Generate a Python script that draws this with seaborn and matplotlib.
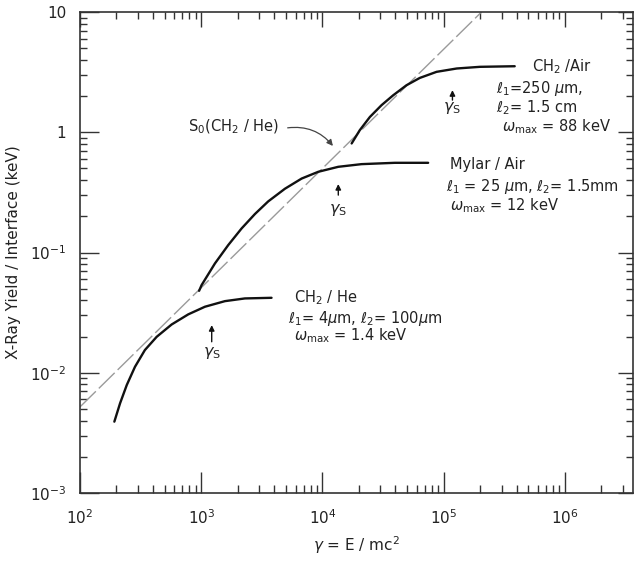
import matplotlib
matplotlib.use("Agg")
import matplotlib.pyplot as plt
import seaborn as sns
import numpy as np
import pandas as pd
from matplotlib.ticker import LogLocator, NullFormatter, FixedLocator

# ---- data ----
chhe_gamma = [192, 214, 243, 284, 343, 429, 570, 782, 1073, 1568, 2291, 3800]
chhe_yield = [0.00392, 0.00557, 0.0079, 0.0112, 0.01545, 0.0199, 0.0252, 0.0306,
              0.0354, 0.0394, 0.0415, 0.0420]

mylar_gamma = [960, 1007, 1297, 1670, 2152, 2773, 3566, 4900, 6730, 9230, 13500,
               21000, 39500, 74400]
mylar_yield = [0.048, 0.0536, 0.0811, 0.1153, 0.1585, 0.209, 0.266, 0.339, 0.412,
               0.469, 0.516, 0.543, 0.557, 0.557]

chair_gamma = [17400, 20300, 24600, 30700, 38300, 49300, 63500, 87300, 128000,
               199000, 385000]
chair_yield = [0.807, 1.04, 1.34, 1.68, 2.03, 2.46, 2.83, 3.18, 3.39, 3.50, 3.54]

s0_gamma = [100, 205000]
s0_yield = [0.0052, 10]

gs_gamma = [1220, 13500, 118000]          # gamma_S arrow positions
gs_tail = [0.0181, 0.300, 1.85]
gs_head = [0.0249, 0.371, 2.24]
gs_label = [0.0146, 0.2255, 1.585]

xticks = [1e2, 1e3, 1e4, 1e5, 1e6]
xticklabels = [r"$10^2$", r"$10^3$", r"$10^4$", r"$10^5$", r"$10^6$"]
yticks = [1e-3, 1e-2, 1e-1, 1, 10]
yticklabels = [r"$10^{-3}$", r"$10^{-2}$", r"$10^{-1}$", "1", "10"]

curves = pd.concat([
    pd.DataFrame({"gamma": chhe_gamma, "yield": chhe_yield, "curve": "CH2/He"}),
    pd.DataFrame({"gamma": mylar_gamma, "yield": mylar_yield, "curve": "Mylar/Air"}),
    pd.DataFrame({"gamma": chair_gamma, "yield": chair_yield, "curve": "CH2/Air"}),
])
s0 = pd.DataFrame({"gamma": s0_gamma, "yield": s0_yield})

sns.set_style("ticks")
plt.rcParams["font.family"] = ["DejaVu Sans"]
plt.rcParams["mathtext.fontset"] = "dejavusans"

TXT = "#222222"
SP = "#333333"

fig = plt.figure(figsize=(6.38, 5.62), dpi=100)
W, H = 638, 562
L, R, T, B = 80, 633, 12, 493
ax = fig.add_axes([L / W, 1 - B / H, (R - L) / W, (B - T) / H])

ax.set_xscale("log")
ax.set_yscale("log")

sns.lineplot(data=s0, x="gamma", y="yield", ax=ax, color="#9a9a9a", lw=1.0,
             linestyle=(0, (16, 3)), legend=False)
sns.lineplot(data=curves, x="gamma", y="yield", units="curve", estimator=None,
             sort=False, ax=ax, color="#111111", lw=1.7, legend=False)

ax.set_xlim(100, 3.64e6)
ax.set_ylim(1e-3, 10)

for s in ax.spines.values():
    s.set_color(SP)
    s.set_linewidth(1.2)

ax.xaxis.set_major_locator(FixedLocator(xticks))
ax.set_xticklabels(xticklabels)
ax.yaxis.set_major_locator(FixedLocator(yticks))
ax.set_yticklabels(yticklabels)
ax.xaxis.set_minor_locator(LogLocator(base=10, subs=np.arange(2, 10), numticks=20))
ax.yaxis.set_minor_locator(LogLocator(base=10, subs=np.arange(2, 10), numticks=20))
ax.xaxis.set_minor_formatter(NullFormatter())
ax.yaxis.set_minor_formatter(NullFormatter())

ax.tick_params(axis="x", which="major", direction="in", length=15, width=1.0,
               color=SP, labelsize=11, labelcolor=TXT, pad=11, top=False)
ax.tick_params(axis="x", which="minor", direction="in", length=6, width=1.0,
               color=SP, top=False)
ax.tick_params(axis="y", which="major", direction="in", length=14, width=1.0,
               color=SP, labelsize=11, labelcolor=TXT, pad=10, right=False)
ax.tick_params(axis="y", which="minor", direction="in", length=5, width=1.0,
               color=SP, right=False)

# mirrored ticks (top / right) with their own lengths
top = ax.secondary_xaxis("top")
top.xaxis.set_major_locator(FixedLocator(xticks))
top.xaxis.set_minor_locator(LogLocator(base=10, subs=np.arange(2, 10), numticks=20))
top.xaxis.set_major_formatter(NullFormatter())
top.xaxis.set_minor_formatter(NullFormatter())
top.tick_params(which="major", direction="in", length=11, width=1.0, color=SP)
top.tick_params(which="minor", direction="in", length=5, width=1.0, color=SP)
top.spines["top"].set_visible(False)

right = ax.secondary_yaxis("right")
right.yaxis.set_major_locator(FixedLocator(yticks))
right.yaxis.set_minor_locator(LogLocator(base=10, subs=np.arange(2, 10), numticks=20))
right.yaxis.set_major_formatter(NullFormatter())
right.yaxis.set_minor_formatter(NullFormatter())
right.tick_params(which="major", direction="in", length=11, width=1.0, color=SP)
right.tick_params(which="minor", direction="in", length=5, width=1.0, color=SP)
right.spines["right"].set_visible(False)

ax.set_xlabel(r"$\gamma$ = E / mc$^2$", fontsize=11, color=TXT, labelpad=5)
ax.set_ylabel("X-Ray Yield / Interface (keV)", fontsize=11, color=TXT, labelpad=6)


def axpos(px, py):
    return ((px - L) / (R - L), (B - py) / (B - T))


fs = 10.5
def put(px, py, s, **kw):
    ax.text(*axpos(px, py), s, transform=ax.transAxes, fontsize=fs, color=TXT,
            ha="left", va="center", **kw)

# CH2/Air block
put(532, 67, r"CH$_2$ /Air")
put(496, 89, r"$\ell_1$=250 $\mu$m,")
put(496, 108, r"$\ell_2$= 1.5 cm")
put(502, 127, r"$\omega_{\rm max}$ = 88 keV")
# Mylar/Air block
put(450, 164, "Mylar / Air")
put(446, 187, r"$\ell_1$ = 25 $\mu$m, $\ell_2$= 1.5mm")
put(450, 206, r"$\omega_{\rm max}$ = 12 keV")
# CH2/He block
put(294, 298, r"CH$_2$ / He")
put(288, 318, r"$\ell_1$= 4$\mu$m, $\ell_2$= 100$\mu$m")
put(294, 336, r"$\omega_{\rm max}$ = 1.4 keV")

# S0 label with curved arrow
put(188, 127, r"S$_0$(CH$_2$ / He)")
ax.annotate("", xy=(1.26e4, 0.738), xytext=(4.9e3, 1.08),
            arrowprops=dict(arrowstyle="-|>", color="#444444", lw=0.9,
                            mutation_scale=9,
                            connectionstyle="arc3,rad=-0.3"))

# gamma_S arrows
for g, t, h, lab in zip(gs_gamma, gs_tail, gs_head, gs_label):
    ax.annotate("", xy=(g, h), xytext=(g, t),
                arrowprops=dict(arrowstyle="-|>", color="#111111", lw=1.0,
                                mutation_scale=8, shrinkA=0, shrinkB=0))
    ax.text(g, lab, r"$\gamma_{\rm S}$", fontsize=11.5, color=TXT,
            ha="center", va="center")

fig.savefig("out.png", dpi=100)
